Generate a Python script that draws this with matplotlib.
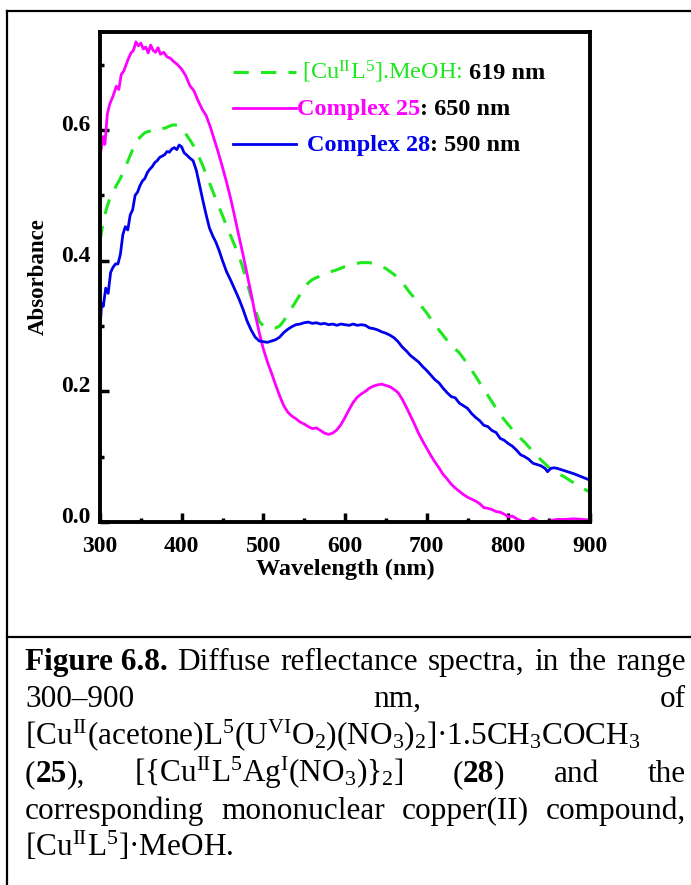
import numpy as np
import matplotlib
matplotlib.use("Agg")
import matplotlib.pyplot as plt
from matplotlib.lines import Line2D
from matplotlib.ticker import MultipleLocator
import matplotlib.transforms as mtrans

plt.rcParams['font.family'] = ['Liberation Serif', 'DejaVu Serif']
plt.rcParams['mathtext.fontset'] = 'custom'
plt.rcParams['mathtext.rm'] = 'Liberation Serif'
plt.rcParams['mathtext.bf'] = 'Liberation Serif:bold'
plt.rcParams['mathtext.default'] = 'regular'

# Complex 25 (magenta)
wl_25 = [300, 304, 306, 309, 312, 316, 320, 323, 326, 329, 332, 335, 338, 341, 344,
         347, 350, 353, 356, 359, 362, 365, 368, 371, 374, 378, 382, 386, 390, 395,
         400, 405, 410, 415, 420, 425, 430, 435, 440, 445, 450, 455, 460, 465, 470,
         475, 480, 485, 490, 495, 500, 505, 510, 515, 520, 525, 530, 535, 540, 545,
         550, 555, 560, 565, 570, 575, 580, 585, 590, 595, 600, 605, 610, 615, 620,
         625, 630, 635, 640, 645, 650, 655, 660, 665, 670, 675, 680, 685, 690, 695,
         700, 705, 710, 715, 720, 725, 730, 735, 740, 745, 750, 755, 760, 765, 770,
         775, 780, 785, 790, 795, 800, 805, 810, 815, 820, 825, 830, 835, 840, 845,
         850, 855, 860, 870, 880, 890, 900]
abs_25 = [0.560, 0.590, 0.578, 0.625, 0.640, 0.652, 0.667, 0.662, 0.685, 0.690, 0.700,
          0.710, 0.718, 0.722, 0.735, 0.729, 0.733, 0.724, 0.727, 0.718, 0.730, 0.722,
          0.719, 0.726, 0.716, 0.719, 0.712, 0.710, 0.705, 0.700, 0.693, 0.683, 0.668,
          0.660, 0.645, 0.632, 0.622, 0.605, 0.585, 0.565, 0.543, 0.520, 0.495, 0.467,
          0.438, 0.410, 0.380, 0.350, 0.318, 0.290, 0.265, 0.245, 0.228, 0.210, 0.193,
          0.178, 0.168, 0.162, 0.158, 0.153, 0.150, 0.146, 0.143, 0.144, 0.140, 0.136,
          0.134, 0.136, 0.141, 0.149, 0.160, 0.172, 0.183, 0.191, 0.196, 0.200, 0.205,
          0.208, 0.210, 0.211, 0.209, 0.207, 0.203, 0.198, 0.188, 0.176, 0.163, 0.150,
          0.136, 0.124, 0.113, 0.102, 0.092, 0.083, 0.073, 0.066, 0.058, 0.052, 0.047,
          0.042, 0.038, 0.035, 0.032, 0.028, 0.022, 0.021, 0.019, 0.016, 0.015, 0.012,
          0.008, 0.009, 0.005, 0.002, 0.000, 0.001, 0.006, 0.002, 0.000, 0.000, 0.001,
          0.003, 0.004, 0.004, 0.005, 0.004, 0.003]

# [CuII L5].MeOH (green dashed)
wl_cu = [300, 304, 308, 312, 316, 320, 325, 330, 335, 340, 345, 350, 355, 360, 365,
         370, 375, 380, 385, 390, 395, 400, 405, 410, 415, 420, 425, 430, 435, 440,
         445, 450, 455, 460, 465, 470, 475, 480, 485, 490, 495, 500, 505, 510, 515,
         520, 525, 530, 535, 540, 545, 550, 555, 560, 570, 580, 590, 600, 610, 620,
         630, 640, 650, 660, 670, 680, 690, 700, 710, 720, 730, 740, 750, 760, 770,
         780, 790, 800, 810, 820, 830, 840, 850, 860, 870, 880, 890, 900]
abs_cu = [0.430, 0.460, 0.480, 0.495, 0.505, 0.515, 0.526, 0.540, 0.555, 0.570, 0.584,
          0.590, 0.596, 0.598, 0.600, 0.603, 0.602, 0.603, 0.606, 0.608, 0.607, 0.602,
          0.594, 0.585, 0.575, 0.562, 0.548, 0.532, 0.516, 0.500, 0.484, 0.469, 0.453,
          0.438, 0.423, 0.408, 0.389, 0.366, 0.345, 0.325, 0.307, 0.300, 0.298, 0.297,
          0.297, 0.300, 0.308, 0.318, 0.328, 0.338, 0.348, 0.358, 0.366, 0.371, 0.377,
          0.382, 0.386, 0.391, 0.395, 0.397, 0.397, 0.394, 0.388, 0.379, 0.367, 0.350,
          0.336, 0.320, 0.302, 0.286, 0.270, 0.259, 0.242, 0.223, 0.203, 0.184, 0.164,
          0.149, 0.134, 0.122, 0.108, 0.095, 0.083, 0.075, 0.068, 0.060, 0.052, 0.046]

# Complex 28 (blue)
wl_28 = [300, 302, 304, 307, 310, 313, 316, 319, 322, 325, 328, 331, 334, 337, 340,
         343, 346, 349, 352, 355, 358, 361, 364, 367, 370, 373, 376, 379, 382, 385,
         388, 391, 394, 397, 400, 403, 406, 410, 414, 418, 422, 426, 430, 434, 438,
         442, 446, 450, 455, 460, 465, 470, 475, 480, 485, 490, 495, 500, 505, 510,
         515, 520, 525, 530, 535, 540, 545, 550, 555, 560, 565, 570, 575, 580, 585,
         590, 595, 600, 605, 610, 615, 620, 625, 630, 635, 640, 645, 650, 655, 660,
         665, 670, 675, 680, 685, 690, 695, 700, 705, 710, 715, 720, 725, 730, 735,
         740, 745, 750, 755, 760, 765, 770, 775, 780, 785, 790, 795, 800, 805, 810,
         815, 820, 825, 830, 835, 840, 845, 848, 852, 856, 860, 870, 880, 890, 900]
abs_28 = [0.294, 0.335, 0.330, 0.358, 0.350, 0.382, 0.390, 0.395, 0.395, 0.410, 0.440,
          0.452, 0.447, 0.470, 0.478, 0.500, 0.505, 0.515, 0.522, 0.526, 0.535, 0.540,
          0.544, 0.550, 0.553, 0.558, 0.560, 0.562, 0.567, 0.566, 0.571, 0.573, 0.570,
          0.577, 0.574, 0.565, 0.562, 0.557, 0.553, 0.538, 0.515, 0.492, 0.470, 0.450,
          0.438, 0.428, 0.415, 0.400, 0.383, 0.370, 0.356, 0.342, 0.326, 0.308, 0.294,
          0.283, 0.277, 0.276, 0.275, 0.277, 0.279, 0.283, 0.290, 0.295, 0.299, 0.302,
          0.303, 0.305, 0.306, 0.304, 0.305, 0.303, 0.304, 0.302, 0.303, 0.301, 0.303,
          0.302, 0.301, 0.303, 0.301, 0.302, 0.301, 0.297, 0.296, 0.294, 0.291, 0.289,
          0.286, 0.282, 0.276, 0.268, 0.262, 0.255, 0.250, 0.245, 0.238, 0.232, 0.225,
          0.218, 0.213, 0.205, 0.198, 0.192, 0.190, 0.182, 0.178, 0.174, 0.166, 0.160,
          0.155, 0.148, 0.146, 0.140, 0.137, 0.128, 0.125, 0.120, 0.116, 0.110, 0.103,
          0.100, 0.096, 0.090, 0.088, 0.086, 0.082, 0.077, 0.082, 0.083, 0.082, 0.078,
          0.074, 0.069, 0.064]

GREEN = '#1ee81e'
MAGENTA = '#ff00ff'
BLUE = '#0000ee'

W, H = 691, 885
fig = plt.figure(figsize=(W / 100, H / 100), dpi=100)
ax = fig.add_axes([100 / W, 1 - 522 / H, 490 / W, 490 / H])

ax.plot(wl_cu, abs_cu, color=GREEN, lw=2.2, dashes=(5, 4))
ax.plot(wl_25, abs_25, color=MAGENTA, lw=2.0)
ax.plot(wl_28, abs_28, color=BLUE, lw=2.0)

ax.set_xlim(300, 900)
ax.set_ylim(0, 0.75)
ax.xaxis.set_major_locator(MultipleLocator(100))
ax.xaxis.set_minor_locator(MultipleLocator(50))
ax.yaxis.set_major_locator(MultipleLocator(0.2))
ax.yaxis.set_minor_locator(MultipleLocator(0.1))
ax.yaxis.set_major_formatter(matplotlib.ticker.FormatStrFormatter('%.1f'))
for s in ax.spines.values():
    s.set_linewidth(2.8)
ax.tick_params(which='both', direction='in', top=False, right=False, width=2.5)
ax.tick_params(which='major', length=6.5, labelsize=17)
ax.tick_params(which='minor', length=3)
ax.tick_params(axis='x', pad=10)
ax.tick_params(axis='y', pad=7)
for lab in ax.get_xticklabels() + ax.get_yticklabels():
    lab.set_fontweight('bold')
off = mtrans.ScaledTranslation(0, 5 / 72, fig.dpi_scale_trans)
for lab in ax.get_yticklabels():
    lab.set_transform(lab.get_transform() + off)

ax.set_xlabel('Wavelength (nm)', fontsize=17.5, fontweight='bold')
ax.set_ylabel('Absorbance', fontsize=16.5, fontweight='bold')
ax.xaxis.set_label_coords(0.5, -(569 - 522) / 490)
ax.xaxis.label.set_va('center')
ax.yaxis.set_label_coords(-(100 - 38) / 490, 0.5)
ax.yaxis.label.set_va('center')

renderer = fig.canvas.get_renderer()


def place(x, y, pieces, size, justify_to=None):
    """Put text pieces side by side on a baseline; x, y in figure pixels from top-left.
    pieces: list of words, each word a list of (text, weight, color)."""
    words = []
    for word in pieces:
        arts = []
        for s, wgt, col in word:
            t = fig.text(0, 0, s, fontsize=size, fontweight=wgt, color=col,
                         va='baseline', ha='left')
            arts.append(t)
        words.append(arts)
    widths = [[a.get_window_extent(renderer).width for a in w] for w in words]
    space = fig.text(0, 0, 'a a', fontsize=size).get_window_extent(renderer).width - \
        fig.text(0, 0, 'aa', fontsize=size).get_window_extent(renderer).width
    for t in fig.texts[-2:]:
        t.remove()
    total = sum(sum(w) for w in widths)
    if justify_to is not None and len(words) > 1:
        gap = (justify_to - x - total) / (len(words) - 1)
    else:
        gap = space
    cx = x
    for arts, ws in zip(words, widths):
        for a, wd in zip(arts, ws):
            a.set_position((cx / W, 1 - y / H))
            cx += wd
        cx += gap


# legend samples and labels
lx0, lx1 = 233, 296
ax.add_line(Line2D([lx0, lx1], [H - 72, H - 72], transform=None, color=GREEN, lw=2.2, dashes=(5, 4)))
ax.add_line(Line2D([lx0, lx1], [H - 108, H - 108], transform=None, color=MAGENTA, lw=2.0))
ax.add_line(Line2D([lx0, lx1], [H - 144, H - 144], transform=None, color=BLUE, lw=2.0))

place(302, 79, [[(r'[Cu$^{II}$L$^{5}$].MeOH:', 'normal', GREEN)], [('619 nm', 'bold', 'black')]], 17.5)
place(297, 115, [[('Complex 25', 'bold', MAGENTA), (': 650 nm', 'bold', 'black')]], 17.5)
place(307, 151, [[('Complex 28', 'bold', BLUE), (': 590 nm', 'bold', 'black')]], 17.5)

# frame around figure and caption box
fig.add_artist(Line2D([7 / W, 7 / W], [0, 1 - 11 / H], transform=fig.transFigure, color='black', lw=1.6))
fig.add_artist(Line2D([7 / W, 1], [1 - 11 / H, 1 - 11 / H], transform=fig.transFigure, color='black', lw=1.6))
fig.add_artist(Line2D([7 / W, 1], [1 - 637 / H, 1 - 637 / H], transform=fig.transFigure, color='black', lw=1.6))

N, B, K = 'normal', 'bold', 'black'
cap = 22.5
x0, x1 = 25, 686
y0, dy = 670, 37.3
place(x0, y0, [[('Figure 6.8.', B, K)], [('Diffuse', N, K)], [('reflectance', N, K)],
               [('spectra,', N, K)], [('in', N, K)], [('the', N, K)], [('range', N, K)]], cap, x1)
place(x0, y0 + dy, [[('300–900', N, K)], [('nm,', N, K)], [('of', N, K)]], cap, x1)
place(x0, y0 + 2 * dy, [[(r'[Cu$^{II}$(acetone)L$^{5}$(U$^{VI}$O$_{2}$)(NO$_{3}$)$_{2}$]·1.5CH$_{3}$COCH$_{3}$', N, K)]], cap)
place(x0, y0 + 3 * dy, [[('(', N, K), ('25', B, K), ('),', N, K)],
                        [(r'[{Cu$^{II}$L$^{5}$Ag$^{I}$(NO$_{3}$)}$_{2}$]', N, K)],
                        [('(', N, K), ('28', B, K), (')', N, K)],
                        [('and', N, K)], [('the', N, K)]], cap, x1)
place(x0, y0 + 4 * dy, [[('corresponding', N, K)], [('mononuclear', N, K)],
                        [('copper(II)', N, K)], [('compound,', N, K)]], cap, x1)
place(x0, y0 + 5 * dy, [[(r'[Cu$^{II}$L$^{5}$]·MeOH.', N, K)]], cap)

fig.savefig('out.png', dpi=100)
